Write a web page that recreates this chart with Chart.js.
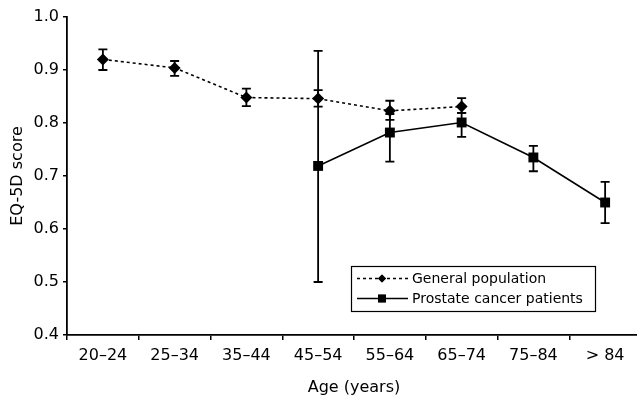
<!DOCTYPE html>
<html>
<head>
<meta charset="utf-8">
<script src="https://cdn.jsdelivr.net/npm/chart.js@4.4.1/dist/chart.umd.min.js"></script>
<style>
  html, body { margin: 0; padding: 0; background: #fff; overflow: hidden; }
  /* o eixo x original passa um pouco da borda direita */
  #wrap { width: 648px; height: 403px; position: relative; }
</style>
</head>
<body>
<div id="wrap"><canvas id="chartEq5d"></canvas></div>
<script>
// categorias e valores
const ageGroups = ['20–24', '25–34', '35–44', '45–54', '55–64', '65–74', '75–84', '> 84'];

const generalMean = [0.920, 0.904, 0.848, 0.846, 0.823, 0.831, null, null];
const generalLow  = [0.900, 0.889, 0.832, 0.831, 0.806, 0.819, null, null];
const generalHigh = [0.939, 0.917, 0.865, 0.862, 0.842, 0.847, null, null];

const cancerMean = [null, null, null, 0.719, 0.782, 0.801, 0.735, 0.650];
const cancerLow  = [null, null, null, 0.500, 0.727, 0.774, 0.709, 0.611];
const cancerHigh = [null, null, null, 0.936, 0.817, 0.819, 0.757, 0.689];

const yTicks = [0.4, 0.5, 0.6, 0.7, 0.8, 0.9, 1.0];

const FONT = "'DejaVu Sans', 'Liberation Sans', Arial, sans-serif";

// barras de erro desenhadas com as escalas do próprio Chart.js
const errorBars = {
    id: 'errorBars',
    afterDatasetsDraw(chart) {
        const { ctx, scales: { x, y } } = chart;
        ctx.save();
        ctx.strokeStyle = '#000';
        ctx.lineWidth = 1.8;
        chart.data.datasets.forEach(ds => {
            ds.data.forEach((v, i) => {
                if (v == null) return;
                const px = x.getPixelForValue(i);
                const top = y.getPixelForValue(ds.errHigh[i]);
                const bot = y.getPixelForValue(ds.errLow[i]);
                ctx.beginPath();
                ctx.moveTo(px, top); ctx.lineTo(px, bot);
                ctx.moveTo(px - 4.5, top); ctx.lineTo(px + 4.5, top);
                ctx.moveTo(px - 4.5, bot); ctx.lineTo(px + 4.5, bot);
                ctx.stroke();
            });
        });
        ctx.restore();
    }
};

// legenda com moldura (linha + marcador no meio)
const boxedLegend = {
    id: 'boxedLegend',
    afterDraw(chart) {
        const ctx = chart.ctx;
        const box = { x: 351, y: 266, w: 244, h: 45 };
        ctx.save();
        ctx.strokeStyle = '#000';
        ctx.lineWidth = 1.2;
        ctx.strokeRect(box.x + 0.5, box.y + 0.5, box.w, box.h);
        ctx.font = '14px ' + FONT;
        ctx.fillStyle = '#000';
        ctx.textBaseline = 'middle';
        chart.data.datasets.forEach((ds, k) => {
            const cy = box.y + 12.5 + k * 20;
            ctx.beginPath();
            ctx.lineWidth = 1.4;
            ctx.setLineDash(ds.borderDash || []);
            ctx.moveTo(box.x + 6, cy);
            ctx.lineTo(box.x + 57, cy);
            ctx.stroke();
            ctx.setLineDash([]);
            Chart.helpers.drawPoint(ctx, {
                pointStyle: ds.pointStyle,
                radius: ds.pointStyle === 'rect' ? 5.5 : 4,
                borderWidth: 0
            }, box.x + 31, cy);
            ctx.fill();
            ctx.fillText(ds.label, box.x + 61, cy + 1);
        });
        ctx.restore();
    }
};

const ctx = document.getElementById('chartEq5d').getContext('2d');
new Chart(ctx, {
    type: 'line',
    data: {
        labels: ageGroups,
        datasets: [{
            label: 'General population',
            data: generalMean,
            errLow: generalLow,
            errHigh: generalHigh,
            borderColor: '#000',
            backgroundColor: '#000',
            borderWidth: 1.6,
            borderDash: [3, 3],
            pointStyle: 'rectRot',
            pointRadius: 6,
            pointBorderWidth: 0,
            fill: false,
            tension: 0
        }, {
            label: 'Prostate cancer patients',
            data: cancerMean,
            errLow: cancerLow,
            errHigh: cancerHigh,
            borderColor: '#000',
            backgroundColor: '#000',
            borderWidth: 1.6,
            pointStyle: 'rect',
            pointRadius: 7,
            pointBorderWidth: 0,
            fill: false,
            tension: 0
        }]
    },
    options: {
        responsive: true,
        maintainAspectRatio: false,
        animation: false,
        events: [],
        layout: { padding: { top: 17, right: 0, bottom: 0, left: 0 } },
        plugins: {
            legend: { display: false },
            tooltip: { enabled: false }
        },
        scales: {
            x: {
                offset: true,
                afterFit(scale) {
                    scale.height = 68;
                    scale.paddingLeft = 0;
                    scale.paddingRight = 0;
                },
                grid: { offset: true, drawOnChartArea: false, drawTicks: true, tickLength: 5, color: '#000', lineWidth: 1.5 },
                border: { display: true, color: '#000', width: 1.8 },
                ticks: { color: '#000', font: { family: FONT, size: 16 }, padding: 6, maxRotation: 0, autoSkip: false },
                title: { display: true, text: 'Age (years)', color: '#000', font: { family: FONT, size: 16 }, padding: { top: 0, bottom: 6 } }
            },
            y: {
                min: 0.4,
                max: 1.0,
                afterFit(scale) { scale.width = 67; },
                afterBuildTicks(scale) { scale.ticks = yTicks.map(v => ({ value: v })); },
                grid: { drawOnChartArea: false, drawTicks: true, tickLength: 4, color: '#000', lineWidth: 1.5 },
                border: { display: true, color: '#000', width: 1.8 },
                ticks: { color: '#000', font: { family: FONT, size: 16 }, padding: 4, callback: v => Number(v).toFixed(1) },
                title: { display: true, text: 'EQ-5D score', color: '#000', font: { family: FONT, size: 16 }, padding: { top: 8, bottom: 0 } }
            }
        }
    },
    plugins: [errorBars, boxedLegend]
});
</script>
</body>
</html>
